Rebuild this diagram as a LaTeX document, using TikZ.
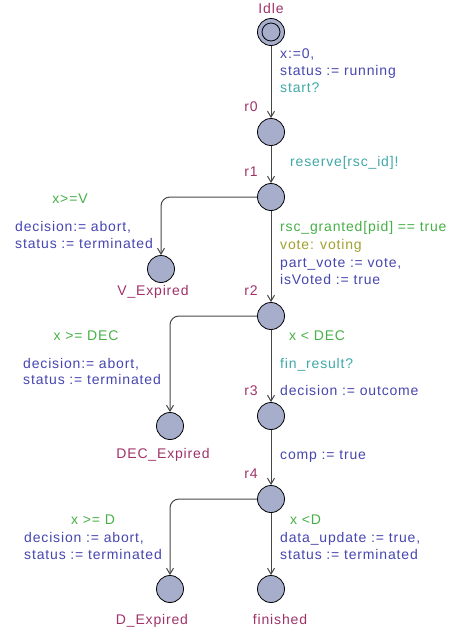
\documentclass[tikz,border=0pt]{standalone}
\usepackage{fontspec}
\setmainfont[LetterSpace=6]{Liberation Sans}
\usetikzlibrary{arrows.meta}
\definecolor{locfill}{RGB}{166,174,204}
\definecolor{locname}{RGB}{160,50,105}
\definecolor{guardc}{RGB}{70,176,70}
\definecolor{updc}{RGB}{70,70,176}
\definecolor{syncc}{RGB}{64,168,168}
\definecolor{selc}{RGB}{160,160,48}
\definecolor{edgec}{RGB}{70,70,70}
\begin{document}
\begin{tikzpicture}[x=1pt,y=-1pt,
  loc/.style={circle,draw=black,line width=0.8pt,fill=locfill,minimum size=27pt,inner sep=0pt},
  txt/.style={inner sep=0pt,font=\fontsize{14}{17}\selectfont,text height=10pt,text depth=3pt},
  lab/.style={txt,text=locname},
  lw/.style={txt,anchor=west},
  lc/.style={txt},
  guard/.style={text=guardc},
  upd/.style={text=updc},
  sync/.style={text=syncc},
  sel/.style={text=selc},
  edge/.style={draw=edgec,line width=1pt,-{Straight Barb[length=6pt,width=7pt,line width=1pt]},rounded corners=9pt}]
\useasboundingbox (0,0) rectangle (452,633);
% locations
\node[loc] (idle) at (271,32) {};
\draw[line width=0.8pt] (idle.center) circle (9pt);
\node[loc] (r0) at (271,132) {};
\node[loc] (r1) at (271,197) {};
\node[loc] (vexp) at (161,269) {};
\node[loc] (r2) at (271,316) {};
\node[loc] (decexp) at (170,426) {};
\node[loc] (r3) at (271,416) {};
\node[loc] (r4) at (271,499) {};
\node[loc] (dexp) at (170,589) {};
\node[loc] (fin) at (271,589) {};
% names
\node[lab] (nidle) at (271,10) {Idle};
\node[lab] (nr0) at (251,108) {r0};
\node[lab] (nr1) at (251,173) {r1};
\node[lab] (nvexp) at (153,292) {V\_Expired};
\node[lab] (nr2) at (251,292) {r2};
\node[lab] (ndecexp) at (163,455) {DEC\_Expired};
\node[lab] (nr3) at (251,392) {r3};
\node[lab] (nr4) at (251,475) {r4};
\node[lab] (ndexp) at (152,621) {D\_Expired};
\node[lab] (nfin) at (280,621) {finished};
% edges
\draw[edge] (idle) -- (r0);
\draw[edge] (r0) -- (r1);
\draw[edge] (r1.west) -| (vexp.north);
\draw[edge] (r1) -- (r2);
\draw[edge] (r2.west) -| (decexp.north);
\draw[edge] (r2) -- (r3);
\draw[edge] (r3) -- (r4);
\draw[edge] (r4.west) -| (dexp.north);
\draw[edge] (r4) -- (fin);
% Idle -> r0
\node[lw,upd] (t1) at (280,55) {x:=0,};
\node[lw,upd] (t2) at (280,72) {status := running};
\node[lw,sync] (t3) at (280,89) {start?};
% r0 -> r1
\node[lw,sync] (t4) at (290,163) {reserve[rsc\_id]!};
% r1 -> V_Expired
\node[lc,guard] (t5) at (70,200) {x>=V};
\node[lw,upd] (t6) at (15,228) {decision:= abort,};
\node[lw,upd] (t7) at (15,245) {status := terminated};
% r1 -> r2
\node[lw,guard] (t8) at (280,228) {rsc\_granted[pid] == true};
\node[lw,sel] (t9) at (280,246) {vote: voting};
\node[lw,upd] (t10) at (280,264) {part\_vote := vote,};
\node[lw,upd] (t11) at (280,281) {isVoted := true};
% r2 -> DEC_Expired
\node[lc,guard] (t12) at (86,337) {x >= DEC};
\node[lw,upd] (t13) at (23,365) {decision:= abort,};
\node[lw,upd] (t14) at (23,381) {status := terminated};
% r2 -> r3
\node[lw,guard] (t15) at (289,337) {x < DEC};
\node[lw,sync] (t16) at (280,365) {fin\_result?};
\node[lw,upd] (t17) at (280,392) {decision := outcome};
% r3 -> r4
\node[lw,upd] (t18) at (280,456) {comp := true};
% r4 -> D_Expired
\node[lc,guard] (t19) at (93,521) {x >= D};
\node[lw,upd] (t20) at (24,539) {decision := abort,};
\node[lw,upd] (t21) at (24,556) {status := terminated};
% r4 -> finished
\node[lw,guard] (t22) at (290,521) {x <D};
\node[lw,upd] (t23) at (280,539) {data\_update := true,};
\node[lw,upd] (t24) at (280,556) {status := terminated};
\end{tikzpicture}
\end{document}
